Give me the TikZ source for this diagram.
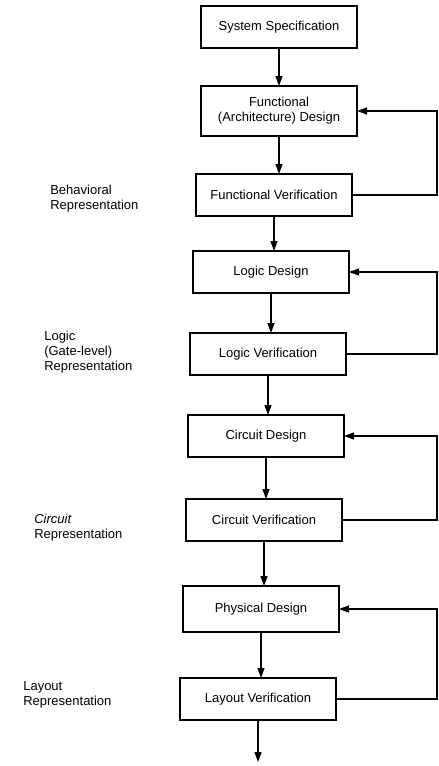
\documentclass[tikz,border=0pt]{standalone}
\usepackage{fontspec}
\setmainfont{Liberation Sans}
\usetikzlibrary{arrows.meta, positioning}
\tikzset{
  stage/.style={rectangle, minimum width=156pt, minimum height=42pt, outer sep=0pt,
    text centered, align=center, draw=black, line width=1.6pt, font=\fontsize{13}{15}\selectfont},
  repr/.style={align=left, font=\fontsize{13}{15}\selectfont},
  arr/.style={-{Triangle[length=10pt,width=7pt]}, line width=1.2pt, draw=black},
}

\begin{document}
\begin{tikzpicture}[x=1pt, y=-1pt]
  \useasboundingbox (0,0) rectangle (439,766);

  \node[stage] (spec) at (279,27) {System Specification};
  \node[stage, minimum height=50pt, below=38pt of spec] (funcdes) {Functional\\(Architecture) Design};
  \node[stage, below=38pt of funcdes, xshift=-5pt] (funcver) {Functional Verification};
  \node[stage, below=35pt of funcver, xshift=-3pt] (logicdes) {Logic Design};
  \node[stage, below=40pt of logicdes, xshift=-3pt] (logicver) {Logic Verification};
  \node[stage, below=40pt of logicver, xshift=-2pt] (circdes) {Circuit Design};
  \node[stage, below=42pt of circdes, xshift=-2pt] (circver) {Circuit Verification};
  \node[stage, minimum height=46pt, below=45pt of circver, xshift=-3pt] (physdes) {Physical Design};
  \node[stage, below=46pt of physdes, xshift=-3pt] (layver) {Layout Verification};
  \coordinate[below=42pt of layver] (out);

  % Left: representations
  \node[repr, left=54pt of funcver, yshift=-4pt] (behrep) {Behavioral\\Representation};
  \node[repr, left=54pt of logicver, yshift=2pt] (gaterep) {Logic\\(Gate-level)\\Representation};
  \node[repr, left=60pt of circver, yshift=-8pt] (circrep) {\textit{Circuit}\\Representation};
  \node[repr, left=65pt of layver, yshift=4pt] (layrep) {Layout\\Representation};

  \draw[arr] (spec.south) -- (spec.south |- funcdes.north);
  \draw[arr] (funcdes.south) -- (funcdes.south |- funcver.north);
  \draw[arr] (funcver.south) -- (funcver.south |- logicdes.north);
  \draw[arr] (logicdes.south) -- (logicdes.south |- logicver.north);
  \draw[arr] (logicver.south) -- (logicver.south |- circdes.north);
  \draw[arr] (circdes.south) -- (circdes.south |- circver.north);
  \draw[arr] (circver.south) -- (circver.south |- physdes.north);
  \draw[arr] (physdes.south) -- (physdes.south |- layver.north);
  \draw[arr] (layver.south) -- (out);

  % Right: feedback loops
  \coordinate (rail) at (437,0);
  \draw[arr] (funcver.east) -- (funcver.east -| rail) |- (funcdes.east);
  \draw[arr] (logicver.east) -- (logicver.east -| rail) |- (logicdes.east);
  \draw[arr] (circver.east) -- (circver.east -| rail) |- (circdes.east);
  \draw[arr] (layver.east) -- (layver.east -| rail) |- (physdes.east);
\end{tikzpicture}
\end{document}
